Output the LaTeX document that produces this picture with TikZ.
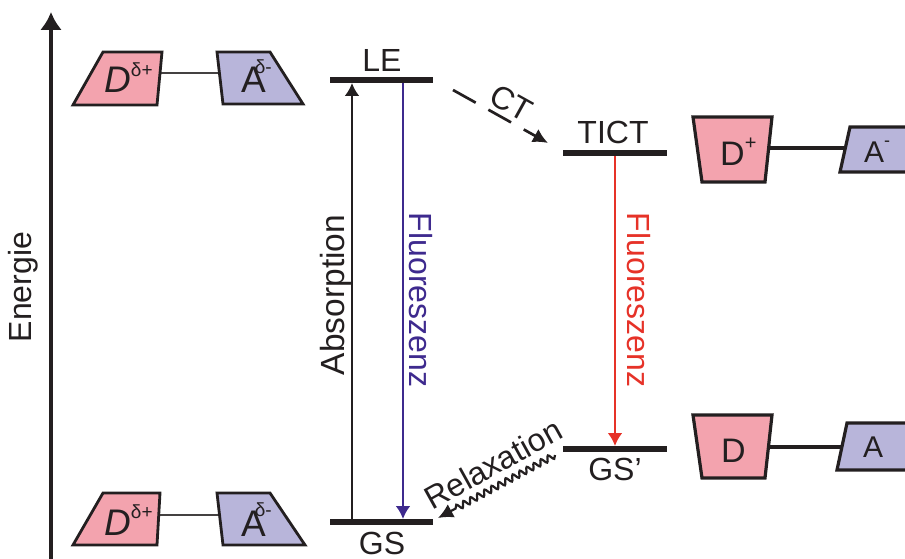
\documentclass[tikz,border=0pt]{standalone}
\usepackage{fontspec}
\setmainfont{Liberation Sans}
\usetikzlibrary{arrows.meta,decorations.pathmorphing}
\definecolor{donor}{HTML}{F3A3AE}
\definecolor{acceptor}{HTML}{B8B5DA}
\definecolor{ink}{HTML}{231F20}
\definecolor{fluoblue}{HTML}{3E2A8E}
\definecolor{fluored}{HTML}{E63228}

\begin{document}
\begin{tikzpicture}[x=1pt,y=-1pt,
  lbl/.style={font=\fontsize{32}{38}\selectfont, text=ink, inner sep=0pt},
  level/.style={line width=6pt, draw=ink},
  trans/.style={line width=2.5pt, -{Latex[length=13pt,width=15pt]}},
  donorbox/.style={fill=donor, draw=ink, line width=2.8pt, line join=miter},
  accbox/.style={fill=acceptor, draw=ink, line width=2.8pt, line join=miter},
  thinbond/.style={draw=ink!85, line width=2pt},
  thickbond/.style={draw=ink, line width=3.8pt},
  molbig/.style={font=\fontsize{37}{40}\selectfont, text=ink, inner sep=0pt, anchor=base west},
  molmid/.style={font=\fontsize{34}{40}\selectfont, text=ink, inner sep=0pt, anchor=base west},
  molsmall/.style={font=\fontsize{30}{36}\selectfont, text=ink, inner sep=0pt, anchor=base west},
]
\useasboundingbox (0,0) rectangle (905,559);
\clip (0,0) rectangle (905,559);

% energy axis
\coordinate (ax0) at (51,559);
\coordinate (ax1) at (51,12);
\draw[line width=3.4pt, draw=ink, -{Latex[length=18pt,width=22pt]}] (ax0) -- (ax1);
\node[lbl, rotate=90] (energie) at (23,287) {Energie};

% energy levels
\coordinate (LE-w) at (330,80);   \coordinate (LE-e) at (433,80);
\coordinate (GS-w) at (330,522);  \coordinate (GS-e) at (433,522);
\coordinate (TI-w) at (563,153);  \coordinate (TI-e) at (667,153);
\coordinate (GP-w) at (563,449);  \coordinate (GP-e) at (667,449);
\draw[level] (LE-w) -- (LE-e);
\draw[level] (GS-w) -- (GS-e);
\draw[level] (TI-w) -- (TI-e);
\draw[level] (GP-w) -- (GP-e);
\node[lbl, anchor=base] (LE) at (382,72) {LE};
\node[lbl, anchor=base] (GS) at (382,554) {GS};
\node[lbl, anchor=base] (TICT) at (613,143) {TICT};
\node[lbl, anchor=base] (GSp) at (615,480) {GS’};

% vertical transitions
\coordinate (abs0) at (352,519);  \coordinate (abs1) at (352,83);
\coordinate (fb0) at (403,83);    \coordinate (fb1) at (403,519);
\coordinate (fr0) at (615,156);   \coordinate (fr1) at (615,446);
\draw[trans, draw=ink] (abs0) -- (abs1);
\draw[trans, draw=fluoblue] (fb0) -- (fb1);
\draw[trans, draw=fluored] (fr0) -- (fr1);
\node[lbl, rotate=90, anchor=base, font=\fontsize{33.5}{38}\selectfont] (absorption) at (344,295) {Absorption};
\node[lbl, rotate=-90, anchor=base, text=fluoblue] (fluo1) at (409,300) {Fluoreszenz};
\node[lbl, rotate=-90, anchor=base, text=fluored] (fluo2) at (627,300) {Fluoreszenz};

% charge transfer
\coordinate (ct0) at (453,90);  \coordinate (ct1) at (548,143);
\draw[line width=2.7pt, draw=ink, dash pattern=on 26pt off 14.5pt,
      -{Latex[length=15pt,width=15pt]}] (ct0) -- (ct1);
\node[lbl, rotate=-29] (ct) at (511,103) {CT};

% relaxation
\coordinate (rx0) at (555,455);  \coordinate (rx1) at (438,518);
\draw[line width=2.2pt, draw=ink, -{Latex[length=15pt,width=15pt]}, decorate,
      decoration={snake, amplitude=3pt, segment length=8pt, post length=16pt}]
      (rx0) -- (rx1);
\node[lbl, rotate=29] (relax) at (493,464) {Relaxation};

% donor-acceptor pair, upper left
\draw[thinbond] (160,73) -- (219,73);
\filldraw[donorbox] (103,52) -- (162,52) -- (157,105) -- (73,105) -- cycle;
\filldraw[accbox] (217,52) -- (270,52) -- (303,104) -- (223,104) -- cycle;
\node[molbig] (d1) at (104,93) {\textit{D}\raisebox{0.45em}{\fontsize{19}{19}\selectfont δ+}};
\node[molbig] (a1) at (241,93) {A\kern-11pt\raisebox{0.52em}{\fontsize{19}{19}\selectfont δ-}};

% donor-acceptor pair, lower left
\draw[thinbond] (160,515) -- (219,515);
\filldraw[donorbox] (103,493) -- (160,493) -- (157,545) -- (73,545) -- cycle;
\filldraw[accbox] (217,493) -- (270,493) -- (305,545) -- (223,545) -- cycle;
\node[molbig] (d2) at (104,535) {\textit{D}\raisebox{0.45em}{\fontsize{19}{19}\selectfont δ+}};
\node[molbig] (a2) at (241,536) {A\kern-11pt\raisebox{0.52em}{\fontsize{19}{19}\selectfont δ-}};

% twisted pair (TICT)
\draw[thickbond] (768,148) -- (850,148);
\filldraw[donorbox, line width=3.2pt] (693,117) -- (772,117) -- (765,182) -- (702,182) -- cycle;
\filldraw[accbox, line width=3.2pt] (850,127) -- (925,127) -- (930,172) -- (840,172) -- cycle;
\node[molmid] (d3) at (720,165) {D\raisebox{0.45em}{\fontsize{20}{20}\selectfont +}};
\node[molsmall] (a3) at (864,163) {A\raisebox{0.55em}{\fontsize{18}{18}\selectfont -}};

% twisted pair (GS')
\draw[thickbond] (768,447) -- (845,447);
\filldraw[donorbox, line width=3.2pt] (693,415) -- (772,415) -- (765,478) -- (702,478) -- cycle;
\filldraw[accbox, line width=3.2pt] (847,423) -- (925,423) -- (930,470) -- (837,470) -- cycle;
\node[molmid] (d4) at (721,462) {D};
\node[molsmall] (a4) at (863,457) {A};
\end{tikzpicture}
\end{document}
